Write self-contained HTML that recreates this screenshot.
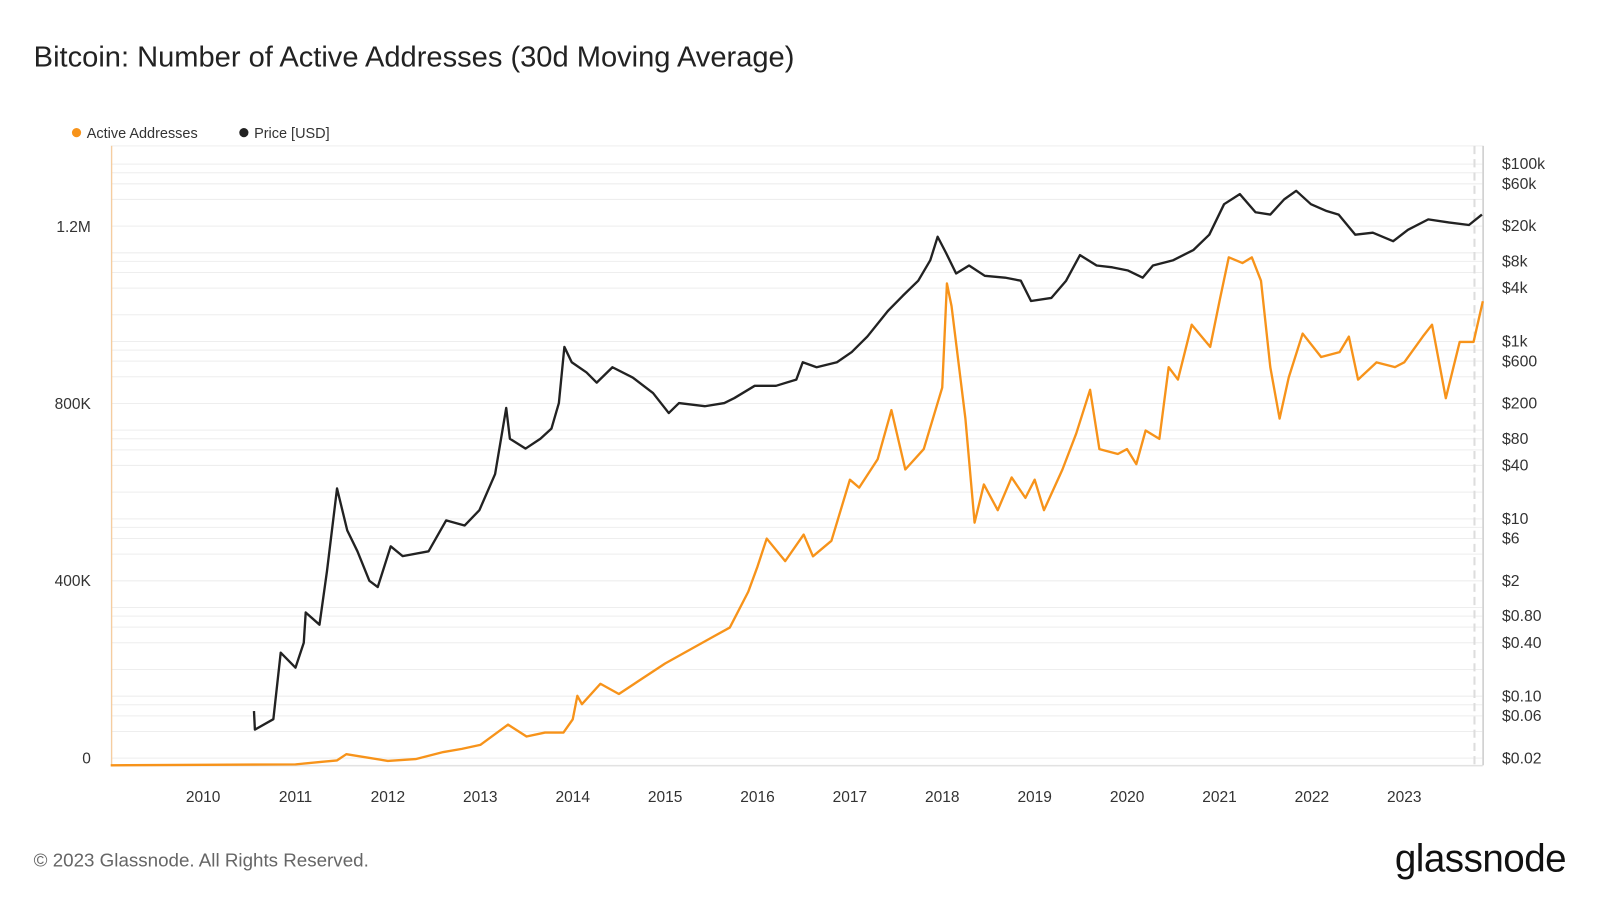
<!DOCTYPE html>
<html><head><meta charset="utf-8"><style>
body{margin:0;background:#fff;width:1600px;height:900px;overflow:hidden;font-family:"Liberation Sans",sans-serif}
svg text{font-family:"Liberation Sans",sans-serif}
</style></head><body>
<svg id="chart" width="1600" height="900" xmlns="http://www.w3.org/2000/svg">
<g transform="scale(1.0204)">
<text x="33" y="65" font-size="28.5" fill="#222">Bitcoin: Number of Active Addresses (30d Moving Average)</text>
<g>
<circle cx="75" cy="130" r="4.5" fill="#f7931a"/>
<text x="85" y="135" font-size="14.2" fill="#333">Active Addresses</text>
<circle cx="239" cy="130" r="4.5" fill="#222"/>
<text x="249" y="135" font-size="14.2" fill="#333">Price [USD]</text>
</g>
<g id="grid"></g>
<rect x="109" y="143" width="1344" height="607" fill="none" stroke="#eee"/>
<line x1="109.5" y1="143" x2="109.5" y2="750" stroke="#f7c48a" stroke-width="1"/>
<line x1="1453.5" y1="143" x2="1453.5" y2="750" stroke="#bbb" stroke-width="1"/>
<line x1="1445" y1="143" x2="1445" y2="750" stroke="#ddd" stroke-width="2" stroke-dasharray="8,5"/>
<line x1="109" y1="750.5" x2="1453" y2="750.5" stroke="#ddd"/>
<g id="axes"></g>
<g id="series"></g>
<text x="33" y="849" font-size="18.4" fill="#666">© 2023 Glassnode. All Rights Reserved.</text>
<text x="1367" y="854" font-size="37.8" fill="#111" letter-spacing="-0.5">glassnode</text>
</g>
</svg>
<script>
const xTicks=[2010,2011,2012,2013,2014,2015,2016,2017,2018,2019,2020,2021,2022,2023];
const leftTicks=[0,400,800,1200];
const leftLabels=["0","400K","800K","1.2M"];
const rightTicks=[0.02,0.06,0.1,0.4,0.8,2,6,10,40,80,200,600,1000,4000,8000,20000,60000,100000];
const rightLabels=["$0.02","$0.06","$0.10","$0.40","$0.80","$2","$6","$10","$40","$80","$200","$600","$1k","$4k","$8k","$20k","$60k","$100k"];
const aaDates=[2009.0,2011.0,2011.3,2011.45,2011.55,2012.0,2012.3,2012.6,2012.8,2013.0,2013.3,2013.5,2013.7,2013.9,2014.0,2014.05,2014.1,2014.3,2014.5,2015.0,2015.5,2015.7,2015.9,2016.0,2016.1,2016.3,2016.5,2016.6,2016.8,2017.0,2017.1,2017.3,2017.45,2017.6,2017.8,2018.0,2018.05,2018.1,2018.25,2018.35,2018.45,2018.6,2018.75,2018.9,2019.0,2019.1,2019.3,2019.45,2019.6,2019.7,2019.9,2020.0,2020.1,2020.2,2020.35,2020.45,2020.55,2020.7,2020.9,2021.0,2021.1,2021.25,2021.35,2021.45,2021.55,2021.65,2021.75,2021.9,2022.1,2022.3,2022.4,2022.5,2022.7,2022.9,2023.0,2023.2,2023.3,2023.45,2023.6,2023.75,2023.85];
const aaValues=[0,2,8,11,25,10,14,30,37,46,92,65,74,74,104,157,138,184,161,230,288,311,392,449,512,461,521,472,507,645,627,691,802,668,714,853,1088,1037,783,548,634,576,650,604,645,576,668,749,848,714,703,714,680,756,737,899,871,995,945,1048,1147,1134,1147,1094,899,783,876,975,922,933,968,871,910,899,910,968,995,829,956,956,1048];
const pxDates=[2010.55,2010.56,2010.76,2010.84,2011.0,2011.09,2011.11,2011.26,2011.34,2011.45,2011.56,2011.67,2011.80,2011.89,2012.03,2012.16,2012.44,2012.63,2012.83,2012.99,2013.16,2013.28,2013.32,2013.49,2013.65,2013.77,2013.85,2013.91,2013.99,2014.15,2014.26,2014.43,2014.65,2014.87,2015.04,2015.15,2015.43,2015.64,2015.75,2015.97,2016.20,2016.42,2016.49,2016.64,2016.86,2017.02,2017.19,2017.41,2017.57,2017.74,2017.87,2017.95,2018.04,2018.15,2018.29,2018.46,2018.68,2018.85,2018.96,2019.18,2019.34,2019.49,2019.67,2019.84,2020.01,2020.17,2020.28,2020.50,2020.72,2020.89,2021.05,2021.22,2021.39,2021.55,2021.70,2021.83,2021.99,2022.16,2022.29,2022.47,2022.66,2022.88,2023.04,2023.26,2023.48,2023.70,2023.84];
const pxValues=[0.068,0.042,0.055,0.31,0.21,0.40,0.88,0.64,2.55,22,7.4,4.3,2.0,1.7,4.9,3.8,4.3,9.6,8.4,12.5,32,178,80,62,80,104,202,868,584,448,343,512,392,262,156,202,186,202,230,316,316,372,584,512,584,760,1140,2200,3260,4850,8260,15200,10000,5850,7200,5500,5250,4850,2860,3100,4850,9420,7200,6850,6320,5250,7200,8260,10800,16000,35400,46000,28700,27000,40000,50000,35400,29600,27000,16000,16900,13500,18200,23800,22000,20600,27000];
const NS="http://www.w3.org/2000/svg";
const X0=109,X1=1453,Y0=750,Y1=143;
const xScale=y=>108.5+(y-2009)*90.55;
const yLeft=v=>750-v*0.434;
const yRight=p=>743-Math.log10(p/0.02)*86.9;
const grid=document.getElementById('grid'),axes=document.getElementById('axes'),series=document.getElementById('series');
function mk(tag,attrs,parent){const e=document.createElementNS(NS,tag);for(const k in attrs)e.setAttribute(k,attrs[k]);parent.appendChild(e);return e;}
for(let d=-2;d<=5;d++){for(const m of [1,2,4,6,8]){const p=m*Math.pow(10,d);const y=yRight(p);if(y<Y1||y>Y0)continue;
 const l=mk('line',{x1:X0,x2:X1,y1:y,y2:y,stroke:'#eee','stroke-width':1},grid);
 
 }}
leftTicks.forEach((v,i)=>{const t=mk('text',{x:89,y:yLeft(v)-2,'font-size':15.2,fill:'#333','text-anchor':'end'},axes);t.textContent=leftLabels[i];
 
 });
rightTicks.forEach((v,i)=>{const t=mk('text',{x:1472,y:yRight(v)+5,'font-size':15.5,fill:'#333'},axes);t.textContent=rightLabels[i];
 
 });
xTicks.forEach(v=>{const t=mk('text',{x:xScale(v),y:786,'font-size':15.2,fill:'#333','text-anchor':'middle'},axes);t.textContent=String(v);
 
 });
const aaPts=aaDates.map((d,i)=>xScale(d).toFixed(1)+','+yLeft(aaValues[i]).toFixed(1)).join(' ');
const aa=mk('polyline',{points:aaPts,fill:'none',stroke:'#f7931a','stroke-width':2.3,'stroke-linejoin':'round'},series);


const pxPts=pxDates.map((d,i)=>xScale(d).toFixed(1)+','+yRight(pxValues[i]).toFixed(1)).join(' ');
const px=mk('polyline',{points:pxPts,fill:'none',stroke:'#222','stroke-width':2.3,'stroke-linejoin':'round'},series);


</script>
</body></html>
